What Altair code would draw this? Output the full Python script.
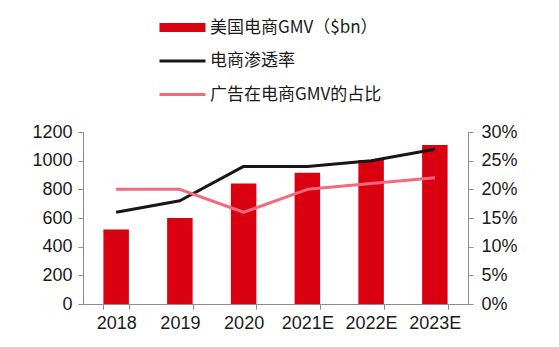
import altair as alt
import pandas as pd

years = ["2018", "2019", "2020", "2021E", "2022E", "2023E"]
gmv = [520, 600, 840, 915, 1005, 1110]
penetration = [0.16, 0.18, 0.24, 0.24, 0.25, 0.27]
ad_share = [0.20, 0.20, 0.16, 0.20, 0.21, 0.22]
series_names = ["美国电商GMV（$bn）", "电商渗透率", "广告在电商GMV的占比"]
series_colors = ["#D9000F", "#1A1414", "#F26A7C"]
left_ticks = [0, 200, 400, 600, 800, 1000, 1200]
right_ticks = [0, 0.05, 0.10, 0.15, 0.20, 0.25, 0.30]

bar_df = pd.DataFrame({"year": years, "value": gmv, "series": series_names[0]})
line_df = pd.concat([
    pd.DataFrame({"year": years, "pct": penetration, "series": series_names[1]}),
    pd.DataFrame({"year": years, "pct": ad_share, "series": series_names[2]}),
], ignore_index=True)

NUM_FONT = "Liberation Sans"
CJK_FONT = "Noto Sans CJK SC"
TXT = "#1a1a1a"
AX = "#8c8c8c"

legend = alt.Legend(
    title=None,
    orient="none",
    legendX=91,
    legendY=-113,
    direction="vertical",
    gridAlign="all",
    symbolType="stroke",
    symbolSize=2116,
    symbolStrokeWidth={"expr": "datum.index === 0 ? 9 : 3"},
    labelFont=CJK_FONT,
    labelFontSize=17,
    labelColor=TXT,
    labelLimit=400,
    labelOffset=19,
    rowPadding=5.5,
)

color = alt.Color(
    "series:N",
    scale=alt.Scale(domain=series_names, range=series_colors),
    legend=legend,
)

x_enc = alt.X(
    "year:N",
    sort=years,
    scale=alt.Scale(paddingInner=0.6, paddingOuter=0.32),
    axis=alt.Axis(
        title=None,
        labelAngle=0,
        tickBand="extent",
        labelFont=NUM_FONT,
        labelFontSize=18,
        labelColor=TXT,
        labelPadding=5,
        domainColor=AX,
        tickColor=AX,
        tickSize=5,
    ),
)

bars = alt.Chart(bar_df).mark_bar().encode(
    x=x_enc,
    y=alt.Y(
        "value:Q",
        scale=alt.Scale(domain=[0, 1200]),
        axis=alt.Axis(
            title=None,
            orient="left",
            values=left_ticks,
            format="d",
            grid=False,
            labelFont=NUM_FONT,
            labelFontSize=18,
            labelColor=TXT,
            labelPadding=6,
            domainColor=AX,
            tickColor=AX,
            tickSize=5,
        ),
    ),
    color=color,
)

lines = alt.Chart(line_df).mark_line(strokeWidth=3, strokeJoin="round").encode(
    x=alt.X("year:N", sort=years),
    y=alt.Y(
        "pct:Q",
        scale=alt.Scale(domain=[0, 0.3]),
        axis=alt.Axis(
            title=None,
            orient="right",
            values=right_ticks,
            format=".0%",
            grid=False,
            labelFont=NUM_FONT,
            labelFontSize=18,
            labelColor=TXT,
            labelPadding=8,
            domainColor=AX,
            tickColor=AX,
            tickSize=5,
        ),
    ),
    color=color,
)

chart = (
    alt.layer(bars, lines)
    .resolve_scale(y="independent")
    .properties(
        width=385,
        height=172,
        autosize=alt.AutoSizeParams(type="none"),
        padding={"left": 83, "top": 132, "right": 91, "bottom": 43},
        background="white",
    )
    .configure_view(stroke=None)
)

chart.save("out.html", embed_options={"renderer": "svg", "actions": False})
